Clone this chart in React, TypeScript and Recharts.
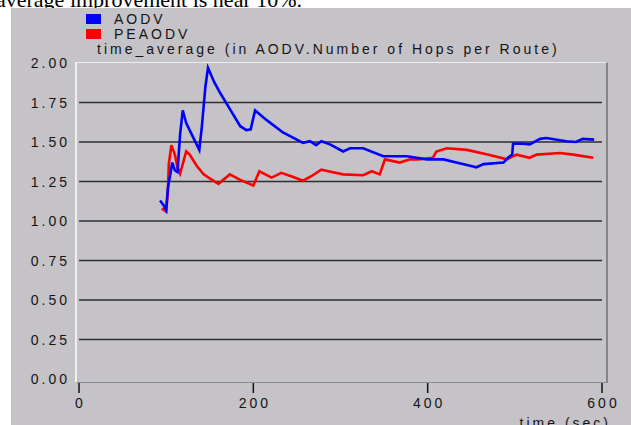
import { LineChart, Line, XAxis, YAxis, ReferenceLine } from "recharts";

// AODV
const aodvTime = [93, 97, 100, 102, 104, 107, 110, 113, 116, 119, 123, 130, 138, 141, 145, 148, 155, 162, 173, 185, 192, 197, 202, 215, 234, 257, 265, 272, 278, 288, 303, 311, 326, 349, 376, 399, 418, 445, 456, 464, 487, 492, 497, 498, 507, 517, 529, 536, 559, 570, 578, 591];
const aodvHops = [1.13, 1.1, 1.07, 1.21, 1.27, 1.37, 1.32, 1.31, 1.55, 1.7, 1.62, 1.54, 1.45, 1.6, 1.85, 1.97, 1.88, 1.81, 1.71, 1.6, 1.575, 1.58, 1.7, 1.64, 1.56, 1.495, 1.505, 1.48, 1.505, 1.485, 1.44, 1.46, 1.46, 1.41, 1.41, 1.39, 1.39, 1.355, 1.34, 1.36, 1.37, 1.4, 1.42, 1.49, 1.49, 1.485, 1.52, 1.525, 1.505, 1.5, 1.52, 1.515];

// PEAODV, red trace
const peaodvTime = [95, 100, 102, 103, 106, 110, 113, 116, 123, 127, 135, 143, 150, 160, 173, 185, 200, 207, 221, 232, 245, 257, 267, 278, 290, 303, 326, 336, 345, 351, 368, 380, 389, 406, 410, 422, 445, 470, 491, 502, 517, 525, 552, 567, 590];
const peaodvHops = [1.08, 1.06, 1.19, 1.36, 1.48, 1.42, 1.34, 1.3, 1.44, 1.42, 1.35, 1.295, 1.27, 1.235, 1.295, 1.26, 1.225, 1.315, 1.275, 1.305, 1.28, 1.255, 1.285, 1.325, 1.31, 1.295, 1.29, 1.315, 1.295, 1.39, 1.37, 1.39, 1.39, 1.4, 1.44, 1.46, 1.45, 1.42, 1.39, 1.42, 1.4, 1.42, 1.43, 1.42, 1.4];

const xTicks = [0, 200, 400, 600];
const yTicks = [0, 0.25, 0.5, 0.75, 1, 1.25, 1.5, 1.75, 2];
const gridValues = [0.25, 0.5, 0.75, 1, 1.25, 1.5, 1.75];

const aodvData = aodvTime.map((t, i) => ({ t, v: aodvHops[i] }));
const peaodvData = peaodvTime.map((t, i) => ({ t, v: peaodvHops[i] }));

const font = "'Liberation Sans', Arial, sans-serif";
const textColor = "#141414";
const spacing = 3;

function TimeTick({ x, y, payload }: any) {
  return (
    <g>
      <line x1={x} x2={x} y1={y + 4} y2={y + 14} stroke="#111" strokeWidth={1.5} />
      <text x={x + spacing / 2} y={y + 29} textAnchor="middle" fill={textColor} fontSize={14} fontFamily={font} letterSpacing={spacing}>
        {payload.value}
      </text>
    </g>
  );
}

function HopsTick({ x, y, payload }: any) {
  return (
    <text x={x - 9} y={y + 5} textAnchor="end" fill={textColor} fontSize={14} fontFamily={font} letterSpacing={spacing}>
      {Number(payload.value).toFixed(2)}
    </text>
  );
}

const label = { position: "absolute" as const, fontFamily: font, fontSize: 14, color: textColor, letterSpacing: spacing, lineHeight: "14px", whiteSpace: "nowrap" as const };

export default function App() {
  return (
    <div style={{ position: "fixed", left: 0, top: 0, width: 631, height: 425, overflow: "hidden", background: "#fff" }}>
      <div style={{ position: "absolute", left: -4, top: -11, fontFamily: "'Liberation Serif', 'Times New Roman', serif", fontSize: 22, lineHeight: 1, whiteSpace: "nowrap" }}>
        average improvement is near 10%.
      </div>
      <div style={{ position: "absolute", left: 11, top: 8, right: 0, bottom: 0, background: "#c5c3c7" }} />

      <div style={{ position: "absolute", left: 86, top: 14, width: 15, height: 10, background: "#0000ff" }} />
      <div style={{ position: "absolute", left: 86, top: 29, width: 15, height: 10, background: "#ff0000" }} />
      <div style={{ ...label, left: 114, top: 12 }}>AODV</div>
      <div style={{ ...label, left: 114, top: 27 }}>PEAODV</div>
      <div style={{ ...label, left: 97, top: 42 }}>time_average (in AODV.Number of Hops per Route)</div>
      <div style={{ ...label, right: 20, top: 416 }}>time (sec)</div>

      <div style={{ position: "absolute", left: 75, top: 62, width: 529, height: 319, borderLeft: "2px solid #f2f2f2", borderTop: "1px solid #ececec", borderRight: "2px solid #858585", borderBottom: "1px solid #8c8c8c" }} />

      <div style={{ position: "absolute", left: 0, top: 0 }}>
        <LineChart width={631} height={425} margin={{ top: 63, right: 29, left: 0, bottom: 0 }}>
          <XAxis
            type="number"
            dataKey="t"
            domain={[0, 600]}
            ticks={xTicks}
            height={46}
            axisLine={false}
            tickLine={false}
            tickSize={0}
            tickMargin={0}
            tick={<TimeTick />}
            allowDataOverflow
          />
          <YAxis
            type="number"
            dataKey="v"
            domain={[0, 2]}
            ticks={yTicks}
            width={79}
            axisLine={false}
            tickLine={false}
            tickSize={0}
            tickMargin={0}
            tick={<HopsTick />}
            interval={0}
          />
          {gridValues.map((v) => (
            <ReferenceLine key={v} y={v} stroke="#2e2e2e" strokeWidth={1.5} />
          ))}
          <Line data={peaodvData} dataKey="v" type="linear" stroke="#ff0000" strokeWidth={2.6} dot={false} isAnimationActive={false} />
          <Line data={aodvData} dataKey="v" type="linear" stroke="#0000ff" strokeWidth={2.6} dot={false} isAnimationActive={false} />
        </LineChart>
      </div>
    </div>
  );
}
